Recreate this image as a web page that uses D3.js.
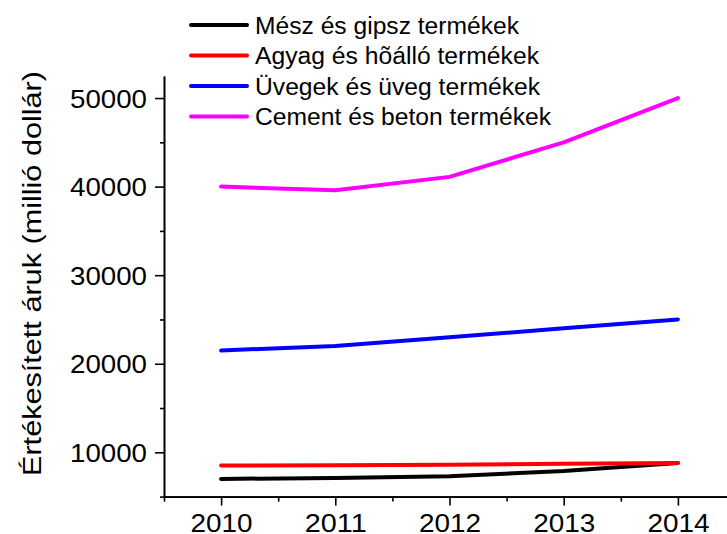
<!DOCTYPE html>
<html>
<head>
<meta charset="utf-8">
<script src="https://cdn.jsdelivr.net/npm/d3@7"></script>
<style>
  html, body { margin: 0; padding: 0; background: #fff; }
  svg { display: block; }
  text { font-family: "Liberation Sans", Arial, Helvetica, sans-serif; fill: #000; }
</style>
</head>
<body>
<svg id="chart" width="727" height="534"></svg>
<script>
const years = [2010, 2011, 2012, 2013, 2014];
const seriesNames = ["Mész és gipsz termékek", "Agyag és hõálló termékek", "Üvegek és üveg termékek", "Cement és beton termékek"];
const meszValues = [7000, 7100, 7300, 7900, 8800];
const agyagValues = [8500, 8550, 8600, 8700, 8800];
const uvegValues = [21500, 22000, 23000, 24000, 25000];
const cementValues = [40000, 39600, 41100, 45000, 50000];
const seriesColors = ["#000000", "#ff0000", "#0000ff", "#ff00ff"];
const yTickValues = [10000, 20000, 30000, 40000, 50000];
const yMinorTicks = [5000, 15000, 25000, 35000, 45000];
const xMinorTicks = [2009.5, 2010.5, 2011.5, 2012.5, 2013.5, 2014.5];
const yAxisTitle = "Értékesített áruk (millió dollár)";

const seriesValues = [meszValues, agyagValues, uvegValues, cementValues];

const svg = d3.select("#chart");
const x = d3.scaleLinear().domain([2009.5, 2014.5]).range([164, 735]);
const y = d3.scaleLinear().domain([5000, 52500]).range([496.6, 75.9]);

const axisStyle = g => {
  g.selectAll("path.domain").attr("stroke", "#000").attr("stroke-width", 1.6);
  g.selectAll("line").attr("stroke", "#000").attr("stroke-width", 1.6);
};

// x minor ticks
svg.append("g").attr("transform", `translate(0,${y(5000)})`)
  .call(d3.axisBottom(x).tickValues(xMinorTicks).tickSize(5).tickSizeOuter(0).tickFormat(""))
  .call(axisStyle);
// x major
const gx = svg.append("g").attr("transform", `translate(0,${y(5000)})`)
  .call(d3.axisBottom(x).tickValues(years).tickSize(9).tickSizeOuter(0).tickFormat(d3.format("d")))
  .call(axisStyle);
gx.selectAll("text").attr("font-size", 26).attr("font-family", "Liberation Sans, Arial, sans-serif")
  .attr("y", 35).attr("dy", 0)
  .attr("textLength", 62).attr("lengthAdjust", "spacingAndGlyphs");

// y minor
svg.append("g").attr("transform", `translate(${x(2009.5)},0)`)
  .call(d3.axisLeft(y).tickValues(yMinorTicks).tickSize(4).tickSizeOuter(0).tickFormat(""))
  .call(axisStyle);
const gy = svg.append("g").attr("transform", `translate(${x(2009.5)},0)`)
  .call(d3.axisLeft(y).tickValues(yTickValues).tickSize(9).tickSizeOuter(0).tickFormat(d3.format("d")).tickPadding(8))
  .call(axisStyle);
gy.selectAll("text").attr("font-size", 26).attr("font-family", "Liberation Sans, Arial, sans-serif")
  .attr("dy", "0.35em").attr("textLength", 77).attr("lengthAdjust", "spacingAndGlyphs");

// Y axis title
svg.append("text")
  .attr("transform", `translate(41,${273.5}) rotate(-90)`)
  .attr("text-anchor", "middle")
  .attr("font-size", 25)
  .attr("textLength", 405).attr("lengthAdjust", "spacingAndGlyphs")
  .text(yAxisTitle);

// Lines
const line = d3.line().x((d, i) => x(years[i])).y(d => y(d));
seriesValues.forEach((vals, i) => {
  svg.append("path")
    .datum(vals)
    .attr("fill", "none")
    .attr("stroke", seriesColors[i])
    .attr("stroke-width", 4)
    .attr("stroke-linecap", "round")
    .attr("stroke-linejoin", "round")
    .attr("d", line);
});

// Legend
const legendRowY = d3.scaleLinear().domain([0, 3]).range([25, 116.5]);
const legendWidths = [264, 284, 285, 296];
seriesNames.forEach((name, i) => {
  const yy = legendRowY(i);
  svg.append("line").attr("x1", 191).attr("x2", 247).attr("y1", yy).attr("y2", yy)
    .attr("stroke", seriesColors[i]).attr("stroke-width", 4).attr("stroke-linecap", "round");
  svg.append("text").attr("x", 255).attr("y", yy + 8.5)
    .attr("font-size", 23.5)
    .attr("textLength", legendWidths[i]).attr("lengthAdjust", "spacingAndGlyphs")
    .text(name);
});
</script>
</body>
</html>
